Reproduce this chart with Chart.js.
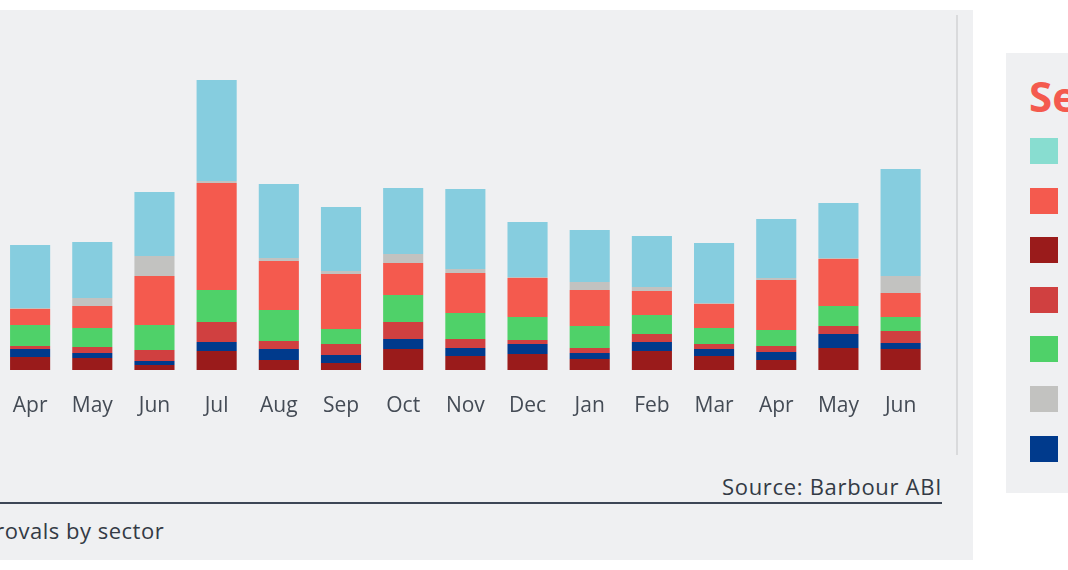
<!DOCTYPE html>
<html>
<head>
<meta charset="utf-8">
<script src="https://cdn.jsdelivr.net/npm/chart.js@4/dist/chart.umd.min.js"></script>
<style>
  html, body { margin: 0; padding: 0; background: #fff; width: 1068px; height: 570px; overflow: hidden; }
  body { position: relative; font-family: "Open Sans", sans-serif; }
  #panel { position: absolute; left: 0; top: 10px; width: 973px; height: 550px; background: #eff0f2; }
  #chartBox { position: absolute; left: -10px; top: 0; width: 949px; height: 430px; }
  #vline { position: absolute; left: 956px; top: 15px; width: 2px; height: 440px; background: #d9dadc; }
  #source { position: absolute; right: 126px; top: 471px; font-size: 22px; letter-spacing: 0.7px; color: #333a45; white-space: nowrap; }
  #hline { position: absolute; left: 0; top: 502px; width: 942px; height: 2px; background: #3d4656; }
  #caption { position: absolute; left: -47px; top: 515px; font-size: 22px; letter-spacing: 0.5px; color: #333a45; white-space: nowrap; }
  #legend { position: absolute; left: 1006px; top: 53px; width: 120px; height: 440px; background: #eff0f2; }
  #legend h2 { position: absolute; left: 23px; top: 14px; margin: 0; font-size: 42px; font-weight: 700; color: #f45a4e; white-space: nowrap; }
  .sw { position: absolute; left: 24px; width: 28px; height: 26px; }
</style>
</head>
<body>
<div id="panel"></div>
<div id="chartBox"><canvas id="myBarChart"></canvas></div>
<div id="vline"></div>
<div id="source">Source: Barbour ABI</div>
<div id="hline"></div>
<div id="caption">Approvals by sector</div>
<div id="legend"><h2>Sector</h2></div>
<script>
// mois (avr. -> juin de l'année suivante)
const months = ["Apr", "May", "Jun", "Jul", "Aug", "Sep", "Oct", "Nov", "Dec", "Jan", "Feb", "Mar", "Apr", "May", "Jun"];

// valeurs, empilées du bas vers le haut
const darkRed = [13, 12, 5, 19, 10, 7, 21, 14, 16, 11, 19, 14, 10, 22, 21];
const navy    = [8, 5, 4, 9, 11, 8, 10, 8, 10, 6, 9, 7, 8, 14, 6];
const midRed  = [3, 6, 11, 20, 8, 11, 17, 9, 4, 5, 8, 5, 6, 8, 12];
const green   = [21, 19, 25, 32, 31, 15, 27, 26, 23, 22, 19, 16, 16, 20, 14];
const coral   = [16, 22, 49, 107, 49, 55, 32, 40, 39, 36, 24, 24, 50, 47, 24];
const grey    = [1, 8, 20, 2, 3, 3, 9, 4, 1, 8, 4, 1, 2, 1, 17];
const skyBlue = [63, 56, 64, 101, 74, 64, 66, 80, 55, 52, 51, 60, 59, 55, 107];

// légende (ordre du panneau de droite)
const legendColors = ['#88ddd0', '#f45a4e', '#9a1b1b', '#d04040', '#4fd169', '#c2c2c0', '#003a8c'];
const legendBox = document.getElementById("legend");
legendColors.forEach(function (c, i) {
  const d = document.createElement("div");
  d.className = "sw";
  d.style.top = (85 + i * 49.6) + "px";
  d.style.background = c;
  legendBox.appendChild(d);
});

var ctx = document.getElementById("myBarChart");
new Chart(ctx, {
  type: 'bar',
  data: {
    labels: months,
    datasets: [
      { label: 'Sector 1', data: darkRed, backgroundColor: '#9a1b1b' },
      { label: 'Sector 2', data: navy, backgroundColor: '#003a8c' },
      { label: 'Sector 3', data: midRed, backgroundColor: '#d04040' },
      { label: 'Sector 4', data: green, backgroundColor: '#4fd169' },
      { label: 'Sector 5', data: coral, backgroundColor: '#f45a4e' },
      { label: 'Sector 6', data: grey, backgroundColor: '#c2c2c0' },
      { label: 'Sector 7', data: skyBlue, backgroundColor: '#86cddf' },
    ],
  },
  options: {
    maintainAspectRatio: false,
    animation: false,
    layout: { padding: 0 },
    datasets: { bar: { barPercentage: 0.645, categoryPercentage: 1 } },
    plugins: {
      legend: { display: false },
      tooltip: { enabled: false }
    },
    scales: {
      x: {
        stacked: true,
        grid: { display: false, drawTicks: false },
        border: { display: false },
        ticks: { color: '#444b55', padding: 23, font: { family: 'Open Sans', size: 21 }, maxRotation: 0 },
        afterFit: function (s) { s.height = 60; }
      },
      y: {
        stacked: true,
        display: false,
        min: 0,
        max: 370
      }
    }
  },
});
</script>
</body>
</html>
